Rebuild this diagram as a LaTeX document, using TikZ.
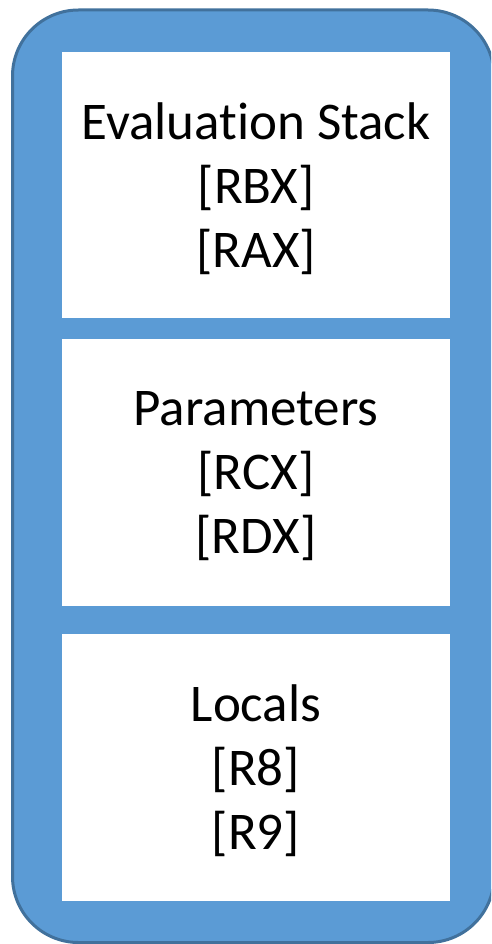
\documentclass[tikz,border=0pt]{standalone}
\usepackage{fontspec}
\setmainfont{Carlito}[Ligatures=NoCommon]
\usepackage{xcolor}
\usepackage{tikz}
\usetikzlibrary{positioning}
\definecolor{frameblue}{HTML}{5B9BD5}
\definecolor{edgeblue}{HTML}{41719C}
\tikzset{
    framebox/.style = {draw=edgeblue, fill=frameblue, line width=3pt, rounded corners=66pt},
    slotbox/.style = {rectangle, fill=white, align=center, inner sep=0pt, text depth=0pt, minimum width=388pt, minimum height=266pt},
}

\begin{document}
\begin{tikzpicture}[
	x=1pt, y=-1pt,
	font=\fontsize{53}{64}\selectfont
]
\clip (0,0) rectangle (491,944);
\draw[framebox] (12.5,10) rectangle (494,942.5);
\node[slotbox] at (256,185) (evalstack) {Evaluation Stack\\{[RBX]}\\{[RAX]}};
\node[slotbox, minimum height=267pt] at (256,472.5) (params) {Parameters\\{[RCX]}\\{[RDX]}};
\node[slotbox, minimum height=267pt] at (256,767.5) (locals) {Locals\\{[R8]}\\{[R9]}};

\end{tikzpicture}
\end{document}
